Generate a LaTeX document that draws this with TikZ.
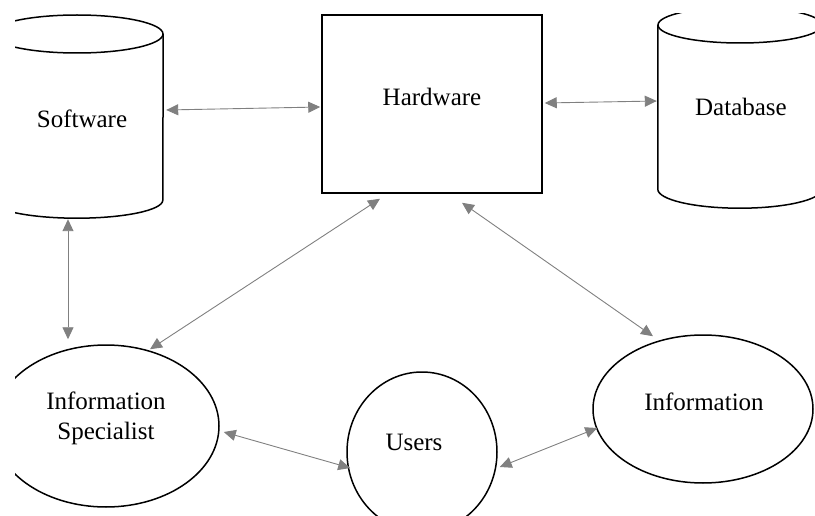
\documentclass[tikz,border=0pt]{standalone}
\usepackage{fontspec}
\setmainfont{Liberation Serif}
\usetikzlibrary{shapes.geometric,arrows.meta}
\begin{document}
\begin{tikzpicture}[x=1pt,y=-1pt,
  shapeline/.style={draw=black,line width=1.5pt},
  body/.style={draw=none,inner sep=0pt,rectangle},
  ell/.style={shapeline,ellipse,inner sep=0pt},
  txt/.style={font=\fontsize{25}{30}\selectfont,align=center,inner sep=0pt},
  link/.style={draw=black!50,line width=0.9pt,
    {Triangle[length=12pt,width=11pt]}-{Triangle[length=12pt,width=11pt]}}]
\useasboundingbox (0,0) rectangle (815,516);
\begin{scope}
\clip (15,14) rectangle (815,516);
% Software cylinder
\node[body,minimum width=172pt,minimum height=166pt] (sw) at (77,117) {};
\draw[shapeline] (77,34) ellipse [x radius=86, y radius=19];
\draw[shapeline] (sw.north west) -- (sw.south west) arc[start angle=180,end angle=0,x radius=86,y radius=18] -- (sw.north east);
\node[txt] (swtext) at (82,119) {Software};
% Hardware box
\node[shapeline,rectangle,minimum width=220pt,minimum height=178pt] (hw) at (432,104) {};
\node[txt] (hwtext) at (432,97) {Hardware};
% Database cylinder
\node[body,minimum width=164pt,minimum height=164pt] (db) at (740,107) {};
\draw[shapeline] (740,25) ellipse [x radius=82, y radius=18];
\draw[shapeline] (db.north west) -- (db.south west) arc[start angle=180,end angle=0,x radius=82,y radius=19] -- (db.north east);
\node[txt] (dbtext) at (741,107) {Database};
% Ellipses
\node[ell,minimum width=226pt,minimum height=162pt] (is) at (106,426) {};
\node[txt] (istext) at (106,418) {Information\\Specialist};
\node[ell,minimum width=150pt,minimum height=160pt] (us) at (422,452) {};
\node[txt] (ustext) at (414,442) {Users};
\node[ell,minimum width=220pt,minimum height=148pt] (inf) at (703,409) {};
\node[txt] (inftext) at (704,402) {Information};
% Connectors
\draw[link] ([shift={(3,-7)}]sw.east) -- ([shift={(-1,3)}]hw.west);
\draw[link] ([shift={(2,-1)}]hw.east) -- ([shift={(-1,-6)}]db.west);
\draw[link] ([shift={(-9,19)}]sw.south) -- ([shift={(-38,-5)}]is.north);
\draw[link] ([shift={(-52,5)}]hw.south) -- ([shift={(44,5)}]is.north);
\draw[link] ([shift={(30,9)}]hw.south) -- ([shift={(-50,2)}]inf.north);
\draw[link] ([shift={(4,6)}]is.east) -- ([shift={(4,16)}]us.west);
\draw[link] ([shift={(2,15)}]us.east) -- ([shift={(5,19)}]inf.west);
\end{scope}
\end{tikzpicture}
\end{document}
